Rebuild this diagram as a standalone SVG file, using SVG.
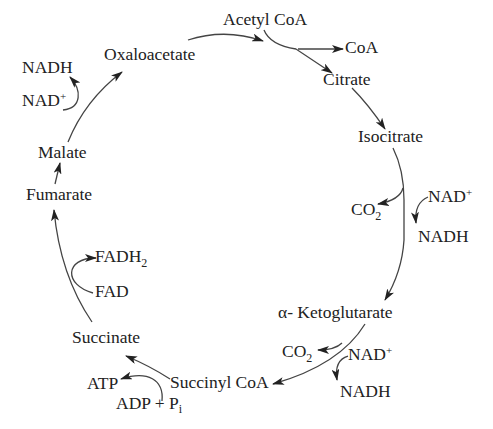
<svg xmlns="http://www.w3.org/2000/svg" width="493" height="429" viewBox="0 0 493 429">
<style>
text{font-family:"Liberation Serif","Times New Roman",serif;font-size:17.5px;fill:#222}
.sub{font-size:12px}
.sup{font-size:11px}
.c path{fill:none;stroke:#444;stroke-width:1.3}
</style>
<defs>
<marker id="ah" viewBox="0 0 12 8" markerWidth="12" markerHeight="8" refX="11" refY="4" orient="auto" markerUnits="userSpaceOnUse">
<path d="M0,0 L12,4 L0,8 L3,4 z" fill="#222"/>
</marker>
</defs>
<rect width="493" height="429" fill="#fff"/>
<g class="c" id="connectors">
<path d="M188,40 Q225,28 263,41" marker-end="url(#ah)"/>
<path d="M264,30 Q270,45 296,49 L332,73" marker-end="url(#ah)"/>
<path d="M298,49 L343,49" marker-end="url(#ah)"/>
<path d="M352,88 Q368,104 385,129" marker-end="url(#ah)"/>
<path d="M393,148 Q404,170 404,200 L404,240 Q402,272 385,300" marker-end="url(#ah)"/>
<path d="M403,188 Q400,200 378,204" marker-end="url(#ah)"/>
<path d="M428,197 Q414,203 416,223" marker-end="url(#ah)"/>
<path d="M365,324 Q340,365 273,384" marker-end="url(#ah)"/>
<path d="M342,343 Q335,350 318,350" marker-end="url(#ah)"/>
<path d="M348,356 Q334,360 337,380" marker-end="url(#ah)"/>
<path d="M170,379 Q150,366 126,356" marker-end="url(#ah)"/>
<path d="M162,401 C164,380 148,370 121,379" marker-end="url(#ah)"/>
<path d="M92,322 Q60,275 54,210" marker-end="url(#ah)"/>
<path d="M93,293 C64,285 64,258 96,258" marker-end="url(#ah)"/>
<path d="M55,184 L60,163" marker-end="url(#ah)"/>
<path d="M68,142 Q85,100 122,72" marker-end="url(#ah)"/>
<path d="M63,110 C82,108 82,90 70,77" marker-end="url(#ah)"/>
</g>
<g id="acetylcoa"><text x="223" y="25">Acetyl CoA</text></g>
<g id="coa1"><text x="345" y="53">CoA</text></g>
<g id="citrate"><text x="323" y="85">Citrate</text></g>
<g id="isocitrate"><text x="358" y="142">Isocitrate</text></g>
<g id="nad1"><text x="428" y="202">NAD<tspan class="sup" dy="-6">+</tspan></text></g>
<g id="co2a"><text x="351" y="215">CO<tspan class="sub" dy="5">2</tspan></text></g>
<g id="nadh1"><text x="418" y="242">NADH</text></g>
<g id="akg"><text x="278" y="318">α- Ketoglutarate</text></g>
<g id="co2b"><text x="282" y="357">CO<tspan class="sub" dy="5">2</tspan></text></g>
<g id="nad2"><text x="348" y="360">NAD<tspan class="sup" dy="-6">+</tspan></text></g>
<g id="nadh2"><text x="340" y="397">NADH</text></g>
<g id="succinylcoa"><text x="170" y="388">Succinyl CoA</text></g>
<g id="atp"><text x="87" y="389">ATP</text></g>
<g id="adp"><text x="116" y="409">ADP + P<tspan class="sub" dy="4">i</tspan></text></g>
<g id="succinate"><text x="72" y="343">Succinate</text></g>
<g id="fad"><text x="95" y="297">FAD</text></g>
<g id="fadh2"><text x="95" y="262">FADH<tspan class="sub" dy="5">2</tspan></text></g>
<g id="fumarate"><text x="26" y="200">Fumarate</text></g>
<g id="malate"><text x="38" y="158">Malate</text></g>
<g id="nad3"><text x="22" y="106">NAD<tspan class="sup" dy="-6">+</tspan></text></g>
<g id="nadh3"><text x="22" y="73">NADH</text></g>
<g id="oxaloacetate"><text x="104" y="60">Oxaloacetate</text></g>
</svg>
